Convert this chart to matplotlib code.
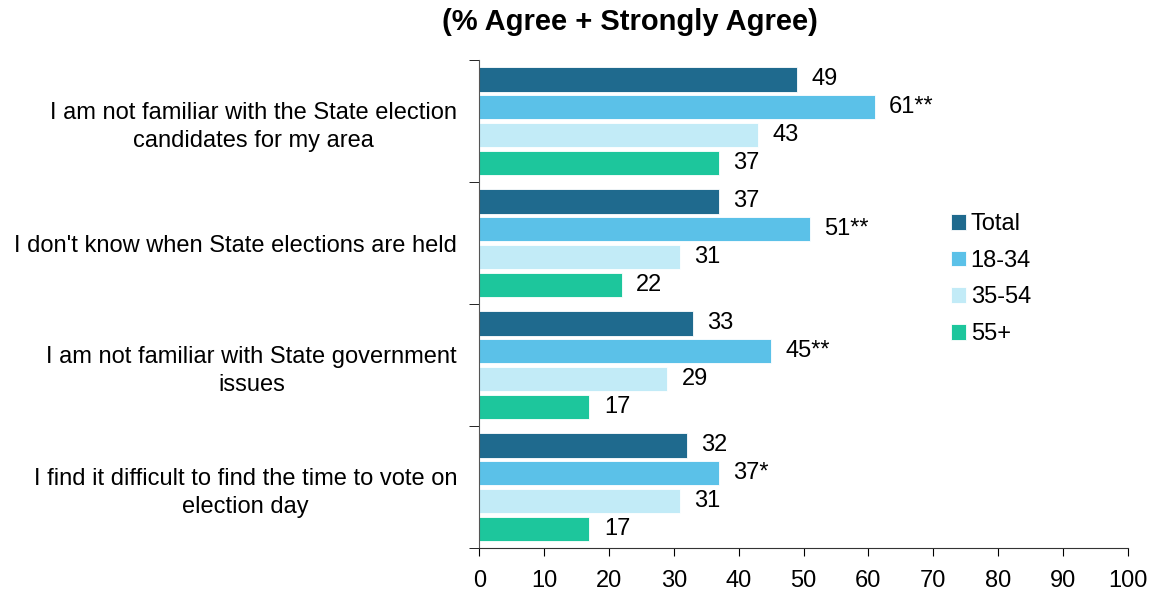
import numpy as np
import matplotlib.pyplot as plt

plt.rcParams['font.family'] = ['Liberation Sans', 'DejaVu Sans']

categories = [
    "I am not familiar with the State election\ncandidates for my area",
    "I don't know when State elections are held",
    "I am not familiar with State government\nissues",
    "I find it difficult to find the time to vote on\nelection day",
]
series_names = ['Total', '18-34', '35-54', '55+']
total = [49, 37, 33, 32]
age_18_34 = [61, 51, 45, 37]
age_35_54 = [43, 31, 29, 31]
age_55 = [37, 22, 17, 17]
labels_18_34 = ['61**', '51**', '45**', '37*']

colors = ['#1f6a8e', '#5bc1e8', '#c2ebf7', '#1dc69c']
series = [total, age_18_34, age_35_54, age_55]
label_sets = [[str(v) for v in total], labels_18_34,
              [str(v) for v in age_35_54], [str(v) for v in age_55]]

fs = 17
fig = plt.figure(figsize=(11.52, 5.9), dpi=100)
ax = fig.add_axes([0.416, 0.071, 0.563, 0.827])

y = np.arange(len(categories))
step = 0.228
height = 0.2
for i, (vals, col, labs, name) in enumerate(zip(series, colors, label_sets, series_names)):
    pos = y + (i - 1.5) * step
    ax.barh(pos, vals, height=height, color=col, edgecolor='white', linewidth=0.6, label=name)
    for p, v, t in zip(pos, vals, labs):
        ax.text(v + 2.2, p, t, va='center', ha='left', fontsize=fs)

ax.set_xlim(0, 100)
ax.set_ylim(len(categories) - 0.5, -0.5)
ax.set_xticks(range(0, 101, 10))
ax.tick_params(axis='x', labelsize=fs, length=6, direction='out', pad=10)

ax.set_yticks(y)
ax.set_yticklabels(categories, fontsize=fs, multialignment='center', linespacing=1.35)
ax.tick_params(axis='y', which='major', length=0, pad=16)
ax.set_yticks(np.arange(-0.5, len(categories)), minor=True)
ax.tick_params(axis='y', which='minor', length=7)

for s in ['top', 'right']:
    ax.spines[s].set_visible(False)
ax.spines['left'].set_color('#555555')
ax.spines['bottom'].set_color('#333333')

ax.legend(loc='upper left', bbox_to_anchor=(0.694, 0.73), frameon=False, fontsize=fs,
          handlelength=0.65, handleheight=0.65, handletextpad=0.2, labelspacing=0.62)

fig.text(0.547, 0.962, '(% Agree + Strongly Agree)', ha='center', va='center',
         fontsize=21, fontweight='bold')

fig.savefig('out.png', dpi=100)
